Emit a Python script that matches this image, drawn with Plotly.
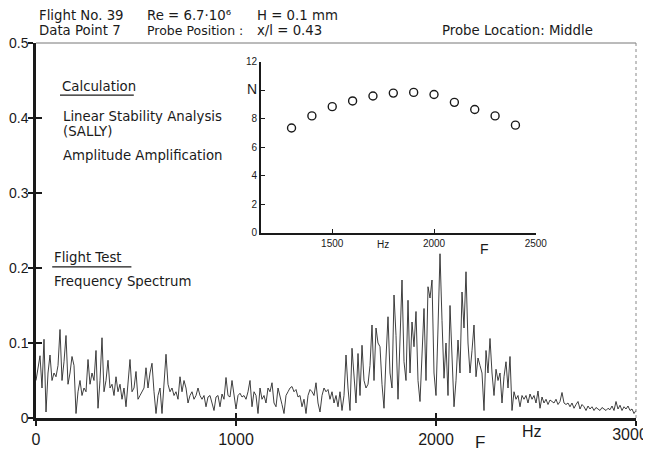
import plotly.graph_objects as go

# ---- data ----
freq_step = 10
spectrum = [
    0.050, 0.070, 0.083, 0.040, 0.105, 0.008, 0.060, 0.084, 0.050, 0.060, 0.055,
    0.070, 0.118, 0.050, 0.075, 0.110, 0.045, 0.060, 0.082, 0.070, 0.006,
    0.035, 0.050, 0.030, 0.040, 0.035, 0.078, 0.045, 0.060, 0.050, 0.090,
    0.013, 0.050, 0.107, 0.035, 0.050, 0.077, 0.040, 0.045, 0.030, 0.055,
    0.035, 0.045, 0.025, 0.040, 0.015, 0.050, 0.078, 0.035, 0.040, 0.062,
    0.025, 0.030, 0.035, 0.040, 0.067, 0.040, 0.060, 0.073, 0.035, 0.006,
    0.030, 0.040, 0.006, 0.045, 0.085, 0.045, 0.035, 0.040, 0.030, 0.035,
    0.025, 0.055, 0.035, 0.050, 0.040, 0.020, 0.030, 0.035, 0.025, 0.030,
    0.040, 0.030, 0.025, 0.030, 0.015, 0.028, 0.030, 0.020, 0.010, 0.028,
    0.030, 0.015, 0.032, 0.025, 0.054, 0.030, 0.028, 0.050, 0.030, 0.012,
    0.030, 0.033, 0.028, 0.030, 0.025, 0.035, 0.050, 0.015, 0.035, 0.030,
    0.006, 0.040, 0.025, 0.030, 0.020, 0.040, 0.035, 0.047, 0.020, 0.015,
    0.040, 0.030, 0.018, 0.006, 0.030, 0.035, 0.040, 0.042, 0.035, 0.038,
    0.028, 0.030, 0.015, 0.025, 0.006, 0.030, 0.038, 0.035, 0.030, 0.047,
    0.020, 0.008, 0.030, 0.040, 0.035, 0.038, 0.025, 0.035, 0.020, 0.030,
    0.015, 0.035, 0.010, 0.030, 0.084, 0.040, 0.010, 0.093, 0.050, 0.020,
    0.086, 0.030, 0.097, 0.050, 0.040, 0.045, 0.070, 0.124, 0.050, 0.120,
    0.100, 0.095, 0.045, 0.013, 0.080, 0.135, 0.060, 0.040, 0.164, 0.110,
    0.025, 0.120, 0.184, 0.075, 0.050, 0.157, 0.060, 0.128, 0.095, 0.142,
    0.050, 0.022, 0.090, 0.146, 0.050, 0.175, 0.160, 0.184, 0.060, 0.030,
    0.120, 0.219, 0.130, 0.053, 0.100, 0.030, 0.150, 0.075, 0.015, 0.050,
    0.104, 0.060, 0.168, 0.120, 0.195, 0.100, 0.060, 0.090, 0.124, 0.055,
    0.080, 0.070, 0.060, 0.010, 0.090, 0.060, 0.106, 0.060, 0.030, 0.065,
    0.050, 0.060, 0.020, 0.055, 0.075, 0.040, 0.082, 0.010, 0.035, 0.025,
    0.030, 0.015, 0.030, 0.025, 0.030, 0.020, 0.032, 0.025, 0.030, 0.020,
    0.036, 0.013, 0.028, 0.020, 0.025, 0.018, 0.024, 0.022, 0.020, 0.025,
    0.018, 0.022, 0.034, 0.020, 0.018, 0.020, 0.015, 0.020, 0.013, 0.018,
    0.022, 0.012, 0.018, 0.015, 0.010, 0.016, 0.012, 0.015, 0.010, 0.014,
    0.012, 0.010, 0.014, 0.012, 0.010, 0.013, 0.011, 0.016, 0.010, 0.022,
    0.012, 0.017, 0.010, 0.015, 0.012, 0.016, 0.010, 0.012, 0.006, 0.010,
]
frequency = [i * freq_step for i in range(len(spectrum))]

calc_F = [1300, 1400, 1500, 1600, 1700, 1800, 1900, 2000, 2100, 2200, 2300, 2400]
calc_N = [7.35, 8.2, 8.85, 9.25, 9.6, 9.8, 9.85, 9.7, 9.15, 8.65, 8.2, 7.55]

main_xticks = [0, 1000, 2000, 3000]
main_xtext = ["0", "1000", "2000", ""]
cross_xticks = [1000, 2000, 3000]
cross_xtext = ["", "", "3000"]
main_yticks = [0, 0.1, 0.2, 0.3, 0.4, 0.5]
main_ytext = ["0", "0.1", "0.2", "0.3", "0.4", "0.5"]
inset_xticks = [1500, 2000, 2500]
inset_yticks = [0, 2, 4, 6, 8, 10, 12]
inset_ytext = ["0", "2", "4", "6", "8", "<span style='font-size:14px'>N</span>", "12"]

FONT = "Liberation Sans"
TXT = "DejaVu Sans"
INK = "#1a1a1a"

fig = go.Figure()
fig.add_trace(go.Scatter(x=frequency, y=spectrum, mode="lines",
                         line=dict(color="#2a2a2a", width=0.9),
                         xaxis="x", yaxis="y", showlegend=False, hoverinfo="skip"))
fig.add_trace(go.Scatter(x=calc_F, y=calc_N, mode="markers",
                         marker=dict(symbol="circle-open", size=8, color=INK,
                                     line=dict(width=1.4, color=INK)),
                         xaxis="x2", yaxis="y2", showlegend=False))
# helper trace for crossing tick marks (inside half)
fig.add_trace(go.Scatter(x=[], y=[], xaxis="x3", yaxis="y3", showlegend=False))

# page body adds an 8px offset, so the figure is sized to fit the 651x451 window
fig.update_layout(
    width=643, height=443,
    margin=dict(l=28, r=15, t=35, b=33),
    paper_bgcolor="white", plot_bgcolor="white",
    font=dict(family=FONT, color=INK),
    xaxis=dict(range=[0, 3000], domain=[0, 1], tickvals=main_xticks, ticktext=main_xtext,
               automargin=False,
               ticks="outside", ticklen=5, tickwidth=1.5, tickcolor=INK,
               showline=True, linewidth=2.5, linecolor=INK,
               showgrid=False, zeroline=False, tickfont=dict(size=16)),
    yaxis=dict(range=[0, 0.5], domain=[0, 1], tickvals=main_yticks, ticktext=main_ytext,
               automargin=False, ticklabeloverflow="allow", ticklabelstandoff=-3,
               ticks="outside", ticklen=5, tickwidth=1.5, tickcolor=INK,
               showline=True, linewidth=2.5, linecolor=INK,
               showgrid=False, zeroline=False, tickfont=dict(size=14)),
    xaxis3=dict(overlaying="x", matches="x", anchor="y3", tickvals=cross_xticks,
                ticktext=cross_xtext, automargin=False,
                ticklabelstandoff=5, ticklabelshift=-6, ticklabeloverflow="allow",
                ticks="inside", ticklen=5, tickwidth=1.5, tickcolor=INK,
                tickfont=dict(size=16),
                showline=False, showgrid=False, zeroline=False),
    yaxis3=dict(overlaying="y", matches="y", anchor="x3", tickvals=main_yticks,
                automargin=False,
                ticks="inside", ticklen=6, tickwidth=1.5, tickcolor=INK,
                showticklabels=False, showline=False, showgrid=False, zeroline=False),
    xaxis2=dict(domain=[0.375, 0.833], anchor="y2", range=[1150, 2500], automargin=False,
                tickvals=inset_xticks, ticks="inside", ticklen=4, tickwidth=1.2,
                tickcolor=INK, showline=True, linewidth=2, linecolor=INK,
                showgrid=False, zeroline=False, tickfont=dict(size=10)),
    yaxis2=dict(domain=[0.494, 0.95], anchor="x2", range=[0, 12], automargin=False,
                tickvals=inset_yticks, ticktext=inset_ytext,
                ticks="inside", ticklen=4, tickwidth=1.2, tickcolor=INK,
                showline=True, linewidth=2, linecolor=INK,
                showgrid=False, zeroline=False, tickfont=dict(size=10)),
)

def ann(text, x, y, size=13.3, xref="paper", yref="paper", xanchor="left", family=TXT):
    fig.add_annotation(text=text, x=x, y=y, xref=xref, yref=yref, showarrow=False,
                       xanchor=xanchor, yanchor="middle",
                       font=dict(size=size, family=family, color=INK))

# header
ann("Flight No. 39", 0.002, 1.072)
ann("Data Point 7", 0.002, 1.032)
ann("Re = 6.7·10⁶", 0.182, 1.072)
ann("Probe Position :", 0.182, 1.032, size=12.5)
ann("H = 0.1 mm", 0.365, 1.072)
ann("x/l = 0.43", 0.365, 1.032)
ann("Probe Location: Middle", 0.673, 1.032)

# in-plot labels
ann("Calculation", 0.04, 0.885)
ann("Linear Stability Analysis", 0.041, 0.803)
ann("(SALLY)", 0.041, 0.765)
ann("Amplitude Amplification", 0.041, 0.699)
ann("Flight Test", 0.027, 0.427)
ann("Frequency Spectrum", 0.027, 0.365)

# axis unit labels
ann("Hz", 0.827, -0.037, size=16, xanchor="center", family=FONT)
ann("F", 0.74, -0.064, size=17, xanchor="center", family=FONT)
ann("Hz", 1750, 0.464, size=10, xref="x2", xanchor="center", family=FONT)
ann("F", 0.748, 0.451, size=14, xanchor="center", family=FONT)

# underlines, frame
fig.add_shape(type="line", xref="paper", yref="paper", x0=0.04, x1=0.163, y0=0.861, y1=0.861,
              line=dict(color=INK, width=1.2))
fig.add_shape(type="line", xref="paper", yref="paper", x0=0.027, x1=0.159, y0=0.403, y1=0.403,
              line=dict(color=INK, width=1.2))
fig.add_shape(type="line", xref="paper", yref="paper", x0=0, x1=1, y0=1, y1=1,
              line=dict(color="#777", width=1))
fig.add_shape(type="line", xref="paper", yref="paper", x0=1, x1=1, y0=0, y1=1,
              line=dict(color="#888", width=1, dash="dot"))

fig.write_html("out.html")
